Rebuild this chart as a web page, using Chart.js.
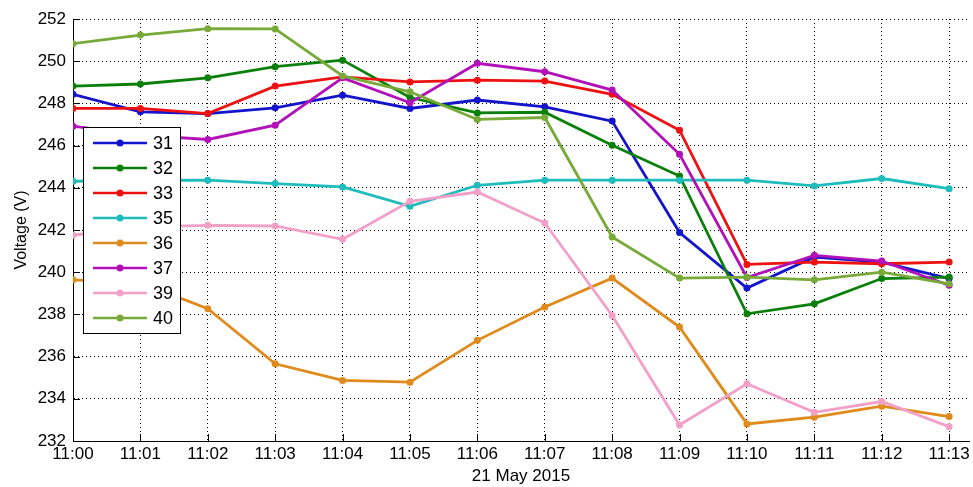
<!DOCTYPE html>
<html>
<head>
<meta charset="utf-8">
<script src="https://cdn.jsdelivr.net/npm/chart.js@4.4.1/dist/chart.umd.min.js"></script>
<style>
  html, body { margin: 0; padding: 0; background: #fff; }
  #wrap { width: 973px; height: 487px; }
</style>
</head>
<body>
<div id="wrap"><canvas id="chart"></canvas></div>
<script>
// time labels (x), minute index 0..13
const timeLabels = ['11:00', '11:01', '11:02', '11:03', '11:04', '11:05', '11:06',
    '11:07', '11:08', '11:09', '11:10', '11:11', '11:12', '11:13'];
const yTicks = [232, 234, 236, 238, 240, 242, 244, 246, 248, 250, 252];

const seriesNames = ['31', '32', '33', '35', '36', '37', '39', '40'];

const v31 = [248.43, 247.60, 247.52, 247.79, 248.39, 247.76, 248.16, 247.84, 247.16, 241.88, 239.25, 240.72, 240.48, 239.70];
const v32 = [248.82, 248.92, 249.21, 249.74, 250.05, 248.28, 247.55, 247.58, 246.02, 244.56, 238.03, 238.50, 239.70, 239.77];
const v33 = [247.76, 247.76, 247.52, 248.82, 249.26, 249.02, 249.10, 249.06, 248.43, 246.73, 240.37, 240.48, 240.40, 240.48];
const v35 = [244.31, 244.35, 244.36, 244.20, 244.04, 243.12, 244.12, 244.36, 244.36, 244.36, 244.36, 244.09, 244.44, 243.96];
const v36 = [239.64, 239.50, 238.27, 235.66, 234.87, 234.79, 236.77, 238.35, 239.72, 237.40, 232.81, 233.13, 233.65, 233.16];
const v37 = [246.92, 246.50, 246.29, 246.97, 249.21, 248.03, 249.90, 249.50, 248.63, 245.59, 239.75, 240.80, 240.53, 239.38];
const v39 = [241.75, 242.15, 242.22, 242.19, 241.56, 243.36, 243.80, 242.33, 237.95, 232.76, 234.71, 233.36, 233.87, 232.68];
const v40 = [250.83, 251.24, 251.54, 251.53, 249.30, 248.55, 247.24, 247.33, 241.67, 239.72, 239.77, 239.64, 240.00, 239.45];

const seriesValues = [v31, v32, v33, v35, v36, v37, v39, v40];
const seriesColors = ['#1414cc', '#0a800a', '#ee1111', '#1fbcbc', '#df8a1a', '#b210b8', '#f2a0c8', '#78aa3a'];

const FONT = "'Liberation Sans', Arial, sans-serif";

// inward MATLAB-style tick marks on left and bottom axes
const innerTicks = {
    id: 'innerTicks',
    afterDraw(chart) {
        const { ctx, chartArea: a, scales } = chart;
        ctx.save();
        ctx.strokeStyle = '#000';
        ctx.lineWidth = 1;
        ctx.beginPath();
        scales.x.ticks.forEach(t => {
            const px = Math.round(scales.x.getPixelForValue(t.value)) + 0.5;
            ctx.moveTo(px, a.bottom);
            ctx.lineTo(px, a.bottom - 7);
        });
        scales.y.ticks.forEach(t => {
            const py = Math.round(scales.y.getPixelForValue(t.value)) + 0.5;
            ctx.moveTo(a.left, py);
            ctx.lineTo(a.left + 7, py);
        });
        ctx.stroke();
        ctx.restore();
    },
};

// legend box drawn inside the plot area
const boxLegend = {
    id: 'boxLegend',
    afterDatasetsDraw(chart) {
        const { ctx } = chart;
        const x0 = 83, y0 = 127, w = 97, h = 206, rowH = 25;
        ctx.save();
        ctx.fillStyle = '#fff';
        ctx.fillRect(x0, y0, w, h);
        ctx.strokeStyle = '#000';
        ctx.lineWidth = 1;
        ctx.strokeRect(x0 + 0.5, y0 + 0.5, w, h);
        chart.data.datasets.forEach((ds, i) => {
            const cy = y0 + 16 + i * rowH;
            ctx.strokeStyle = ds.borderColor;
            ctx.lineWidth = 2.5;
            ctx.beginPath();
            ctx.moveTo(x0 + 10, cy);
            ctx.lineTo(x0 + 64, cy);
            ctx.stroke();
            ctx.fillStyle = ds.borderColor;
            ctx.beginPath();
            ctx.arc(x0 + 37, cy, 3.5, 0, Math.PI * 2);
            ctx.fill();
            ctx.fillStyle = '#000';
            ctx.font = '18px ' + FONT;
            ctx.textBaseline = 'middle';
            ctx.fillText(ds.label, x0 + 70, cy + 1);
        });
        ctx.restore();
    },
};

const datasets = seriesNames.map((name, i) => ({
    label: name,
    data: seriesValues[i].map((v, k) => ({ x: k, y: v })),
    borderColor: seriesColors[i],
    backgroundColor: seriesColors[i],
    borderWidth: 2.8,
    pointRadius: 3.5,
    pointHoverRadius: 4,
    pointBorderWidth: 0,
    tension: 0,
    order: seriesNames.length - i,
}));

new Chart(document.getElementById('chart').getContext('2d'), {
    type: 'line',
    data: { datasets },
    plugins: [innerTicks, boxLegend],
    options: {
        responsive: true,
        maintainAspectRatio: false,
        animation: false,
        layout: { padding: { top: 19, right: 0, left: 0, bottom: 0 } },
        plugins: {
            legend: { display: false },
            tooltip: { enabled: false },
        },
        scales: {
            x: {
                type: 'linear',
                min: 0,
                max: 13.295,
                afterBuildTicks: scale => {
                    scale.ticks = timeLabels.map((_, k) => ({ value: k }));
                },
                afterFit: scale => { scale.height = 46; },
                ticks: {
                    color: '#000',
                    font: { family: FONT, size: 17 },
                    padding: 3,
                    maxRotation: 0,
                    autoSkip: false,
                    callback: v => timeLabels[v],
                },
                grid: {
                    color: '#000',
                    lineWidth: 1,
                    drawTicks: false,
                },
                border: { display: true, color: '#000', width: 1, dash: [1, 3] },
                title: {
                    display: true,
                    text: '21 May 2015',
                    color: '#000',
                    font: { family: FONT, size: 17 },
                    padding: { top: 3, bottom: 0 },
                },
            },
            y: {
                min: 232,
                max: 252,
                afterBuildTicks: scale => {
                    scale.ticks = yTicks.map(v => ({ value: v }));
                },
                afterFit: scale => { scale.width = 73; },
                ticks: {
                    color: '#000',
                    font: { family: FONT, size: 17 },
                    padding: 7,
                },
                grid: {
                    color: '#000',
                    lineWidth: 1,
                    drawTicks: false,
                },
                border: { display: true, color: '#000', width: 1, dash: [1, 3] },
                title: {
                    display: true,
                    text: 'Voltage (V)',
                    color: '#000',
                    font: { family: FONT, size: 16 },
                    padding: { top: 12, bottom: 4 },
                },
            },
        },
    },
});
</script>
</body>
</html>
